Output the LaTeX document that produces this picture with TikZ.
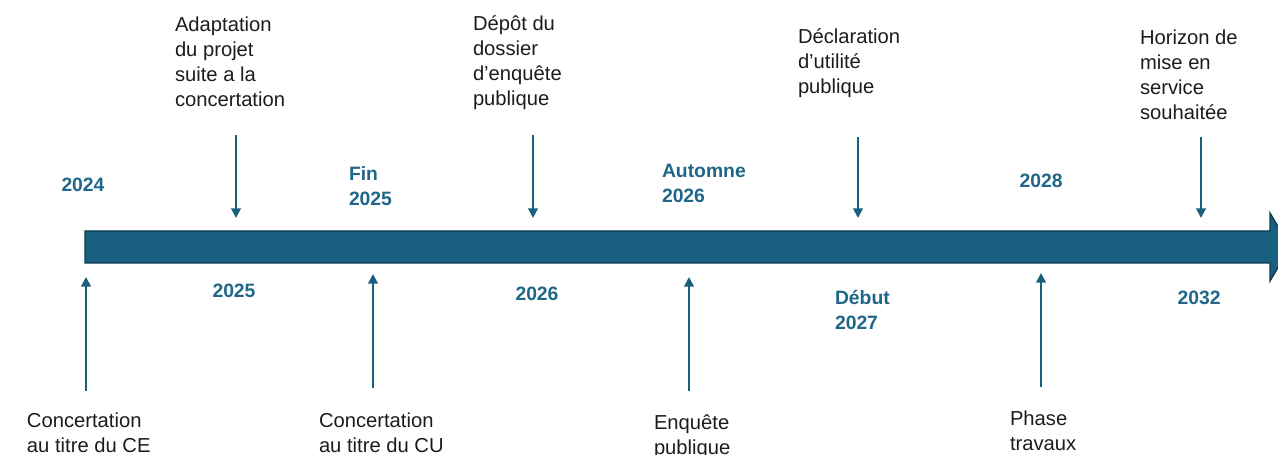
\documentclass[tikz,border=0pt]{standalone}
\usepackage{fontspec}
\setmainfont{Liberation Sans}
\usepackage{tikz}
\usetikzlibrary{
  calc,
  arrows.meta,
  positioning}

\definecolor{barblue}{RGB}{24,95,128}
\definecolor{bardark}{RGB}{14,58,80}
\definecolor{yearblue}{RGB}{31,102,136}
\definecolor{textgrey}{RGB}{28,28,28}

\begin{document}
\begin{tikzpicture}[x=0.02cm,y=-0.02cm]
  \tikzset{event/.style={inner sep=0pt,
                         outer sep=0pt,
                         anchor=north west,
                         align=left,
                         color=textgrey,
                         font=\fontsize{11.5}{14.2}\selectfont},
           year/.style={inner sep=0pt,
                        outer sep=0pt,
                        align=left,
                        color=yearblue,
                        font=\fontsize{11}{14.6}\selectfont\bfseries},
           pointer/.style={draw=barblue,
                           line width=1.1pt,
                           -{Triangle[length=5.5pt,width=5.5pt]}}
                           }

%%%%%%%%%%%%%%%%%%%%%%%%%%%%%%%%%%%%%%%%%%%%%%%%%%%%%%%%%%%%%%%%%%%%%%%%%%%%%%

\useasboundingbox (0,0) rectangle (1278,455);

%%%%%%%%%%%%%%%%%%%%%%%%%%%%%%%%%%%%%%%%%%%%%%%%%%%%%%%%%%%%%%%%%%%%%%%%%%%%%%

\draw[fill=barblue,draw=bardark,line width=0.8pt] (85,231) -- (1270,231) -- (1270,213) -- (1290,247) -- (1270,281) -- (1270,263) -- (85,263) -- cycle;

%%%%%%%%%%%%%%%%%%%%%%%%%%%%%%%%%%%%%%%%%%%%%%%%%%%%%%%%%%%%%%%%%%%%%%%%%%%%%%

\node[event] (ADAPT) at (175,17) {Adaptation\\du projet\\suite a la\\concertation};
\node[event] (DEPOT) at (473,16) {Dépôt du\\dossier\\d’enquête\\publique};
\node[event] (DUP) at (798,29) {Déclaration\\d’utilité\\publique};
\node[event] (HOR) at (1140,30) {Horizon de\\mise en\\service\\souhaitée};

\node[event] (CE) at (27,413) {Concertation\\au titre du CE};
\node[event] (CU) at (319,413) {Concertation\\au titre du CU};
\node[event] (EP) at (654,415) {Enquête\\publique};
\node[event] (PT) at (1010,411) {Phase\\travaux};

%%%%%%%%%%%%%%%%%%%%%%%%%%%%%%%%%%%%%%%%%%%%%%%%%%%%%%%%%%%%%%%%%%%%%%%%%%%%%%

\node[year] (Y24) at (83,185) {2024};
\node[year,anchor=north west] (Y25F) at (349,166) {Fin\\2025};
\node[year,anchor=north west] (Y26A) at (662,164) {Automne\\2026};
\node[year] (Y28) at (1041,181) {2028};

\node[year] (Y25) at (234,291) {2025};
\node[year] (Y26) at (537,294) {2026};
\node[year,anchor=north west] (Y27D) at (835,290) {Début\\2027};
\node[year] (Y32) at (1199,298) {2032};

%%%%%%%%%%%%%%%%%%%%%%%%%%%%%%%%%%%%%%%%%%%%%%%%%%%%%%%%%%%%%%%%%%%%%%%%%%%%%%

\coordinate (ADAPTs) at (236,135);
\coordinate (ADAPTe) at (236,218);
\coordinate (DEPOTs) at (533,135);
\coordinate (DEPOTe) at (533,218);
\coordinate (DUPs) at (858,137);
\coordinate (DUPe) at (858,218);
\coordinate (HORs) at (1201,137);
\coordinate (HORe) at (1201,218);

\coordinate (CEs) at (86,391);
\coordinate (CEe) at (86,277);
\coordinate (CUs) at (373,388);
\coordinate (CUe) at (373,274);
\coordinate (EPs) at (689,391);
\coordinate (EPe) at (689,277);
\coordinate (PTs) at (1041,387);
\coordinate (PTe) at (1041,273);

%%%%%%%%%%%%%%%%%%%%%%%%%%%%%%%%%%%%%%%%%%%%%%%%%%%%%%%%%%%%%%%%%%%%%%%%%%%%%%
\draw[pointer]  (ADAPTs) -- (ADAPTe);
\draw[pointer]  (DEPOTs) -- (DEPOTe);
\draw[pointer]  (DUPs) -- (DUPe);
\draw[pointer]  (HORs) -- (HORe);
\draw[pointer]  (CEs) -- (CEe);
\draw[pointer]  (CUs) -- (CUe);
\draw[pointer]  (EPs) -- (EPe);
\draw[pointer]  (PTs) -- (PTe);

%%%%%%%%%%%%%%%%%%%%%%%%%%%%%%%%%%%%%%%%%%%%%%%%%%%%%%%%%%%%%%%%%%%%%%%%%%%%%%

\end{tikzpicture}
\end{document}
